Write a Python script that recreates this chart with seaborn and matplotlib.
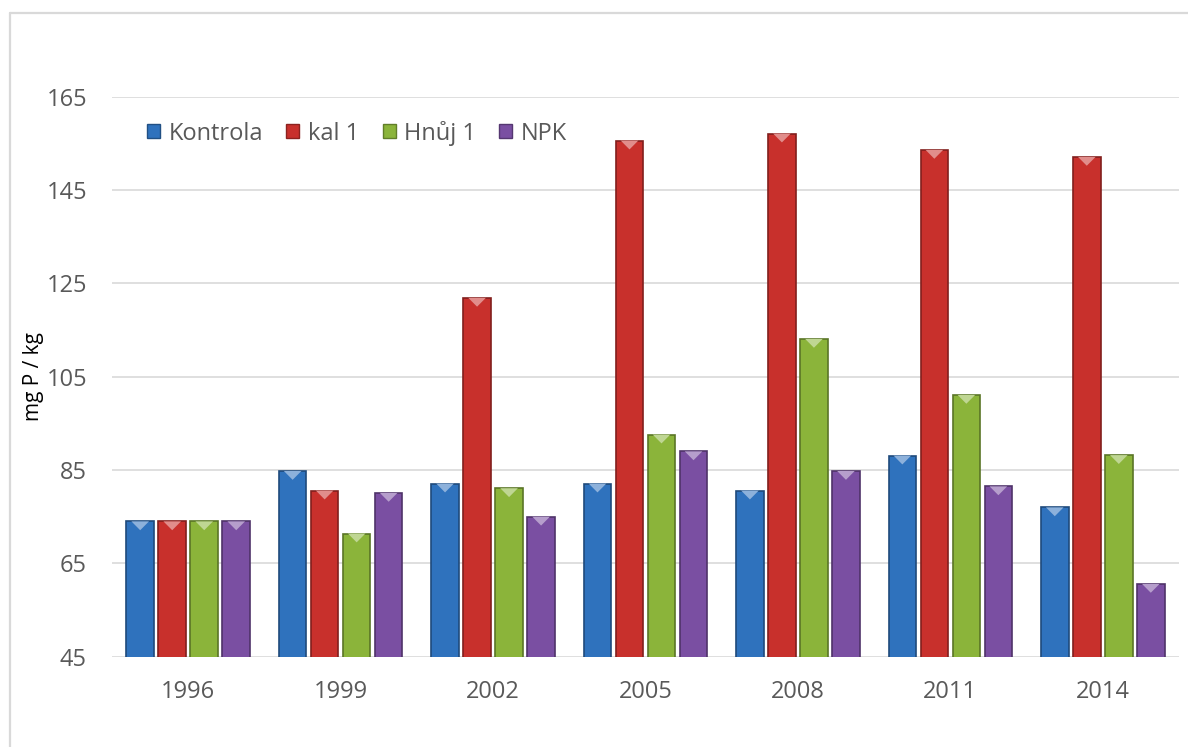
import numpy as np
import pandas as pd
import matplotlib
matplotlib.use("Agg")
import matplotlib.pyplot as plt
from matplotlib.patches import Patch, Polygon
from matplotlib.lines import Line2D
from matplotlib.colors import to_rgb
import seaborn as sns

years = ["1996", "1999", "2002", "2005", "2008", "2011", "2014"]
series_names = ["Kontrola", "kal 1", "Hnůj 1", "NPK"]
kontrola = [74.0, 84.8, 82.1, 82.1, 80.6, 88.1, 77.0]
kal_1 = [74.0, 80.6, 121.9, 155.6, 157.1, 153.6, 152.1]
hnuj_1 = [74.0, 71.4, 81.1, 92.6, 113.1, 101.1, 88.2]
npk = [74.0, 80.1, 75.0, 89.0, 84.8, 81.5, 60.6]
y_ticks = [45, 65, 85, 105, 125, 145, 165]

colors = ["#2f72bd", "#c8302c", "#8bb43a", "#7a4fa2"]

df = pd.DataFrame({
    "rok": years * 4,
    "varianta": np.repeat(series_names, len(years)),
    "hodnota": kontrola + kal_1 + hnuj_1 + npk,
})

sns.set_theme(style="white")
plt.rcParams["font.family"] = ["Open Sans", "DejaVu Sans"]

fig = plt.figure(figsize=(11.88, 7.47), dpi=100)
ax = fig.add_axes([112 / 1188, 1 - 656.7 / 747, (1179 - 112) / 1188, 560 / 747])

sns.barplot(data=df, x="rok", y="hodnota", hue="varianta", order=years,
            hue_order=series_names, palette=colors, width=0.84, gap=0.14,
            saturation=1, legend=False, ax=ax, err_kws={"linewidth": 0})


def shade(c, f):
    r, g, b = to_rgb(c)
    if f < 0:
        return (r * (1 + f), g * (1 + f), b * (1 + f))
    return (r + (1 - r) * f, g + (1 - g) * f, b + (1 - b) * f)


# bevelled look: darker rim and a light wedge at the top of each bar
for patch in list(ax.patches):
    fc = patch.get_facecolor()
    x0, w, top = patch.get_x(), patch.get_width(), patch.get_height()
    patch.set_edgecolor(shade(fc[:3], -0.35))
    patch.set_linewidth(1.2)
    wedge = Polygon([(x0 + 0.18 * w, top), (x0 + 0.82 * w, top),
                     (x0 + 0.5 * w, top - 1.9)], closed=True,
                    facecolor=shade(fc[:3], 0.45), edgecolor="none", zorder=patch.get_zorder() + 0.1)
    ax.add_patch(wedge)

ax.set_ylim(45, 165)
ax.set_xlim(-0.5, len(years) - 0.5)
ax.set_yticks(y_ticks)
ax.yaxis.grid(True, color="#d9d9d9", linewidth=1.2)
ax.xaxis.grid(False)
ax.set_axisbelow(True)
for s in ax.spines.values():
    s.set_visible(False)

ax.tick_params(axis="both", length=0, labelsize=17, labelcolor="#595959")
ax.tick_params(axis="y", pad=18)
ax.tick_params(axis="x", pad=17)
ax.set_xlabel("")
ax.set_ylabel("mg P / kg", fontsize=15, color="black", labelpad=2)

handles = [Patch(facecolor=c, edgecolor=shade(c, -0.3)) for c in colors]
ax.legend(handles, series_names, loc="center left", bbox_to_anchor=(0.024, 0.935),
          ncol=4, frameon=False, fontsize=17, labelcolor="#595959",
          handlelength=0.55, handleheight=0.55, handletextpad=0.35,
          columnspacing=1.0, borderaxespad=0)

# light frame along the chart's top and left border
frame_kw = dict(color="#d9d9d9", linewidth=1.6, transform=fig.transFigure)
fig.add_artist(Line2D([10 / 1188, 10 / 1188], [0, 1 - 13 / 747], **frame_kw))
fig.add_artist(Line2D([10 / 1188, 1], [1 - 13 / 747, 1 - 13 / 747], **frame_kw))

fig.savefig("out.png", dpi=100, facecolor="white")
